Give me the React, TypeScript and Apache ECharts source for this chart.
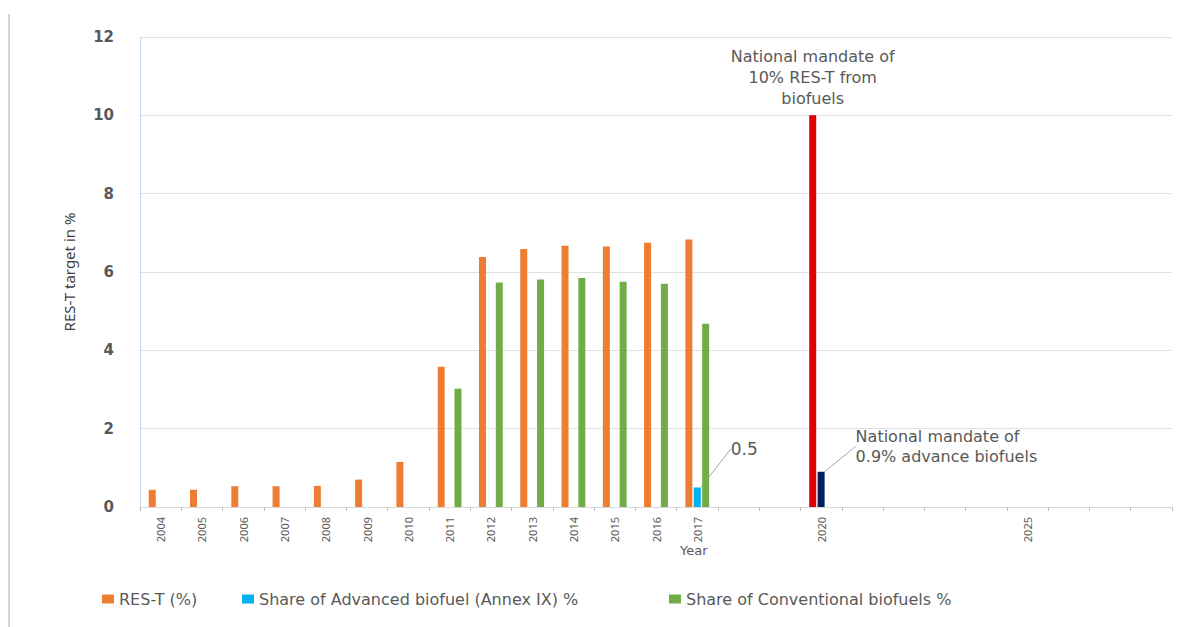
import React, { useEffect, useRef } from "react";
import * as echarts from "echarts";

const years = [
  "2004", "2005", "2006", "2007", "2008", "2009", "2010", "2011", "2012", "2013",
  "2014", "2015", "2016", "2017", "2018", "2019", "2020", "2021", "2022", "2023",
  "2024", "2025", "2026", "2027", "2028",
];
const labelledYears = [
  "2004", "2005", "2006", "2007", "2008", "2009", "2010", "2011", "2012", "2013",
  "2014", "2015", "2016", "2017", "2020", "2025",
];
// RES-T (%) per year; 2020 entry is the national 10% mandate
const resT = [
  0.44, 0.44, 0.53, 0.53, 0.54, 0.7, 1.15, 3.58, 6.38, 6.59,
  6.67, 6.65, 6.75, 6.83, null, null, 10, null, null, null,
  null, null, null, null, null,
];
// Share of advanced biofuel; 2020 entry is the national 0.9% mandate
const advanced = [
  null, null, null, null, null, null, null, null, null, null,
  null, null, null, 0.5, null, null, 0.9, null, null, null,
  null, null, null, null, null,
];
const conventional = [
  null, null, null, null, null, null, null, 3.02, 5.73, 5.81,
  5.85, 5.75, 5.7, 4.68, null, null, null, null, null, null,
  null, null, null, null, null,
];
const yTicks = { min: 0, max: 12, interval: 2 };

const seriesNames = [
  "RES-T (%)",
  "Share of Advanced biofuel (Annex IX) %",
  "Share of Conventional biofuels %",
];
const mandateRes = "National mandate of\n10% RES-T from\nbiofuels";
const mandateAdv = "National mandate of\n0.9% advance biofuels";

const WIDE = "'DejaVu Sans', Verdana, sans-serif";
const GRAY_TXT = "#595959";
const legendLefts = [97, 237, 664];

export default function App() {
  const ref = useRef<HTMLDivElement>(null);
  useEffect(() => {
    if (!ref.current) return;
    const chart = echarts.init(ref.current, undefined, { renderer: "svg" });
    const idx2020 = years.indexOf("2020");
    const idx2017 = years.indexOf("2017");

    const resData = resT.map((v, i) =>
      i === idx2020
        ? {
            value: v,
            itemStyle: { color: "#E00000" },
            label: {
              show: true,
              position: "top",
              distance: 6,
              formatter: mandateRes,
              fontSize: 16,
              lineHeight: 21,
              color: GRAY_TXT,
              fontFamily: WIDE,
              align: "center",
            },
          }
        : v
    );
    const advData = advanced.map((v, i) => {
      if (i === idx2017)
        return {
          value: v,
          label: {
            show: true,
            position: "top",
            formatter: "0.5",
            fontSize: 17,
            color: GRAY_TXT,
            fontFamily: WIDE,
          },
          labelLine: { show: true },
        };
      if (i === idx2020)
        return {
          value: v,
          itemStyle: { color: "#002060" },
          label: {
            show: true,
            position: "right",
            formatter: mandateAdv,
            fontSize: 16,
            lineHeight: 20,
            color: GRAY_TXT,
            fontFamily: WIDE,
            align: "left",
          },
          labelLine: { show: true },
        };
      return v;
    });

    chart.setOption({
      animation: false,
      backgroundColor: "#ffffff",
      grid: { left: 140, right: 5, top: 37, bottom: 120 },
      legend: seriesNames.map((n, i) => ({
        left: legendLefts[i],
        top: 586,
        icon: "rect",
        itemWidth: 12,
        itemHeight: 9,
        textStyle: { color: GRAY_TXT, fontSize: 16, fontFamily: WIDE },
        data: [n],
      })),
      xAxis: {
        type: "category",
        data: years,
        axisLine: { lineStyle: { color: "#d9d9d9", width: 1 } },
        axisTick: { show: true, interval: 0, length: 4, lineStyle: { color: "#bfbfbf" } },
        axisLabel: {
          interval: 0,
          rotate: 90,
          margin: 10,
          fontSize: 11,
          color: GRAY_TXT,
          fontFamily: "'Liberation Sans Narrow', 'Noto Sans', sans-serif",
          formatter: (v: string) => (labelledYears.includes(v) ? v : ""),
        },
      },
      yAxis: {
        type: "value",
        min: yTicks.min,
        max: yTicks.max,
        interval: yTicks.interval,
        name: "RES-T target in %",
        nameLocation: "middle",
        nameGap: 64,
        nameRotate: 90,
        nameTextStyle: { color: "#404040", fontSize: 15, fontFamily: "'Liberation Sans Narrow', 'Noto Sans', sans-serif" },
        axisLine: { show: true, lineStyle: { color: "#c6d6f0", width: 1 } },
        axisTick: { show: false },
        axisLabel: { color: GRAY_TXT, fontSize: 15, fontFamily: WIDE, margin: 26, fontWeight: "bold" },
        splitLine: { lineStyle: { color: "#e0e0e0", width: 1 } },
      },
      graphic: [
        {
          type: "line",
          shape: { x1: 9, y1: 14, x2: 9, y2: 627 },
          style: { stroke: "#d4d4d4", lineWidth: 2 },
        },
        {
          type: "text",
          left: 680,
          top: 544,
          style: { text: "Year", fill: GRAY_TXT, fontSize: 13, fontFamily: WIDE },
        },
      ],
      series: [
        {
          name: seriesNames[0],
          type: "bar",
          data: resData,
          barWidth: 7,
          barGap: "20%",
          itemStyle: { color: "#ED7D31" },
        },
        {
          name: seriesNames[1],
          type: "bar",
          data: advData,
          barWidth: 7,
          barGap: "20%",
          itemStyle: { color: "#00B0F0" },
          labelLine: { show: true, lineStyle: { color: "#a6a6a6", width: 1 } },
          labelLayout: (p: any) =>
            p.dataIndex === idx2017 ? { dx: 47, dy: -25 } : { dx: 26, dy: -43 },
        },
        {
          name: seriesNames[2],
          type: "bar",
          data: conventional,
          barWidth: 7,
          barGap: "20%",
          itemStyle: { color: "#70AD47" },
        },
      ],
    });
    return () => chart.dispose();
  }, []);
  return (
    <div
      ref={ref}
      style={{ position: "fixed", left: 0, top: 0, width: 1177, height: 627, background: "#fff" }}
    />
  );
}
